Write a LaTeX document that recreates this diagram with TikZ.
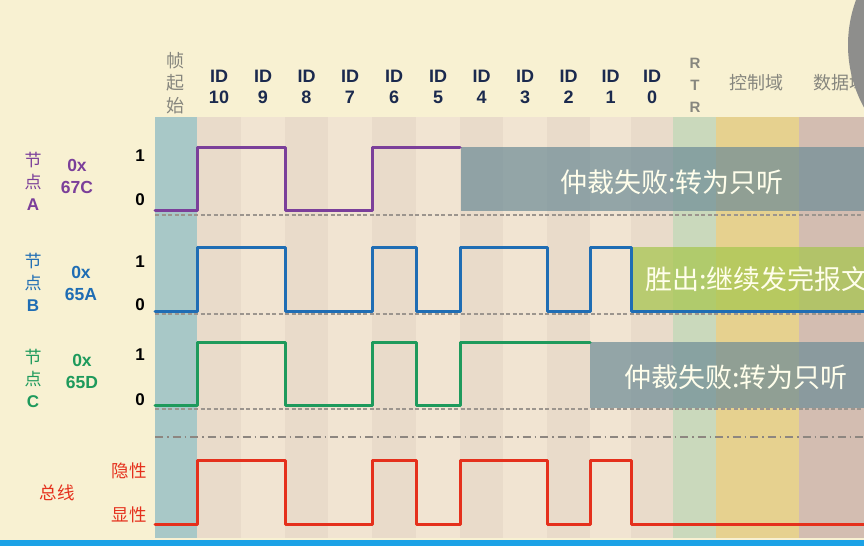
\documentclass[tikz,border=0pt]{standalone}
\usepackage{fontspec}
\setmainfont{Liberation Sans}
\newfontfamily\cjk{Noto Sans CJK SC}
\usetikzlibrary{calc}

\definecolor{bgcream}{HTML}{F8F1D2}
\definecolor{softeal}{HTML}{A8C8C7}
\definecolor{colD}{HTML}{E9DBCA}
\definecolor{colL}{HTML}{F1E4D2}
\definecolor{rtrgreen}{HTML}{CAD9BC}
\definecolor{ctlyellow}{HTML}{E6D18F}
\definecolor{datamauve}{HTML}{D3BDB1}
\definecolor{idnavy}{HTML}{1B2A4E}
\definecolor{hdrgray}{HTML}{86867E}
\definecolor{nodeA}{HTML}{7B3F9A}
\definecolor{nodeB}{HTML}{1F6DB4}
\definecolor{nodeC}{HTML}{1E9A5C}
\definecolor{busred}{HTML}{E5301C}
\definecolor{lostgray}{HTML}{6F8D97}
\definecolor{wingreen}{HTML}{A6C64E}
\definecolor{dashgray}{HTML}{9C958E}
\definecolor{barcyan}{HTML}{1CA2E6}
\definecolor{camgray}{HTML}{8E8E8C}

\begin{document}
\begin{tikzpicture}[x=1pt, y=-1pt,
    sig/.style={line width=3pt, line join=round, line cap=round},
    idlab/.style={font=\fontsize{18}{21}\selectfont\bfseries, text=idnavy, align=center, inner sep=0pt},
    hdr/.style={font=\cjk\fontsize{18}{22.5}\selectfont, text=hdrgray, align=center, inner sep=0pt},
    lvl/.style={font=\fontsize{17}{18}\selectfont\bfseries, inner sep=0pt},
    who/.style={font=\cjk\fontsize{17}{22}\selectfont, align=center, inner sep=0pt},
    hexid/.style={font=\fontsize{17.5}{22}\selectfont\bfseries, align=center, inner sep=0pt},
    banner/.style={font=\cjk\fontsize{27}{28}\selectfont, text=white!92!yellow, inner sep=0pt},
    buslab/.style={font=\cjk\fontsize{17.5}{18}\selectfont, text=busred, inner sep=0pt}]
    \useasboundingbox (0,0) rectangle (864,546);

    % 背景
    \fill[bgcream] (0,0) rectangle (864,546);

    % 帧起始列
    \fill[softeal] (155,117) rectangle (197,538);

    % ID10 ~ ID0 各列及标号
    \foreach \xl/\xr/\n/\c in {197/241/10/colD, 241/285/9/colL, 285/328/8/colD,
        328/372/7/colL, 372/416/6/colD, 416/460/5/colL, 460/503/4/colD,
        503/547/3/colL, 547/590/2/colD, 590/631/1/colL, 631/673/0/colD} {
        \fill[\c] (\xl,117) rectangle (\xr,538);
        \node[idlab] (id\n) at ({(\xl+\xr)/2},87) {ID\\\n};
    }

    % RTR、控制域、数据域
    \fill[rtrgreen] (673,117) rectangle (716,538);
    \fill[ctlyellow] (716,117) rectangle (799,538);
    \fill[datamauve] (799,117) rectangle (864,538);

    % 表头文字
    \node[hdr] (sof) at (175,83) {帧\\起\\始};
    \node[font=\fontsize{15}{22}\selectfont\bfseries, text=hdrgray, align=center, inner sep=0pt] (rtr) at (695,85) {R\\T\\R};
    \node[hdr] (ctl) at (756,83) {控制域};
    \node[hdr, anchor=west] (data) at (813,83) {数据域};

    % 基准虚线与分隔点划线
    \foreach \y in {215, 314, 409} {
        \draw[dashgray, line width=1.5pt, dash pattern=on 4pt off 2.5pt] (155,\y) -- (864,\y);
    }
    \draw[dashgray!90!black, line width=1.5pt, dash pattern=on 8pt off 4pt on 1.5pt off 4pt] (155,437) -- (864,437);

    % 仲裁结果色块
    \fill[lostgray, opacity=0.72] (461,147) rectangle (864,211);
    \fill[wingreen, opacity=0.72] (632,247) rectangle (864,311);
    \fill[lostgray, opacity=0.72] (590,342) rectangle (864,408);

    % 节点A 0x67C
    \draw[sig, nodeA] (155,210) -| (197,147) -| (285,210) -| (372,147) -- (460,147);
    % 节点B 0x65A
    \draw[sig, nodeB] (155,311) -| (197,247) -| (285,311) -| (372,247) -| (416,311)
        -| (460,247) -| (547,311) -| (590,247) -| (631,311) -- (864,311);
    % 节点C 0x65D
    \draw[sig, nodeC] (155,405) -| (197,342) -| (285,405) -| (372,342) -| (416,405)
        -| (460,342) -- (590,342);
    % 总线
    \draw[sig, busred] (155,524) -| (197,460) -| (285,524) -| (372,460) -| (416,524)
        -| (460,460) -| (547,524) -| (590,460) -| (631,524) -- (864,524);

    % 色块上的说明
    \node[banner] (lostA) at (672,182) {仲裁失败:转为只听};
    \node[banner, anchor=west] (winB) at (645,279) {胜出:继续发完报文};
    \node[banner] (lostC) at (736,377) {仲裁失败:转为只听};

    % 左侧节点标注
    \node[who, text=nodeA] (nameA) at (33,181) {节\\点\\{\fontspec{Liberation Sans}\bfseries A}};
    \node[hexid, text=nodeA] (hexA) at (77,176) {0x\\67C};
    \node[who, text=nodeB] (nameB) at (33,282) {节\\点\\{\fontspec{Liberation Sans}\bfseries B}};
    \node[hexid, text=nodeB] (hexB) at (81,283) {0x\\65A};
    \node[who, text=nodeC] (nameC) at (33,378) {节\\点\\{\fontspec{Liberation Sans}\bfseries C}};
    \node[hexid, text=nodeC] (hexC) at (82,371) {0x\\65D};

    % 电平标注
    \foreach \nm/\y/\t in {a1/156/1, a0/200/0, b1/262/1, b0/305/0, c1/355/1, c0/400/0} {
        \node[lvl] (lv\nm) at (140,\y) {\t};
    }
    \node[buslab] (rec) at (129,471) {隐性};
    \node[buslab] (dom) at (129,515) {显性};
    \node[buslab] (bus) at (57,493) {总线};

    % 右上角遮挡与底边
    \fill[camgray] (978,45) circle (130pt);
    \fill[barcyan] (0,540) rectangle (864,546);
\end{tikzpicture}
\end{document}
